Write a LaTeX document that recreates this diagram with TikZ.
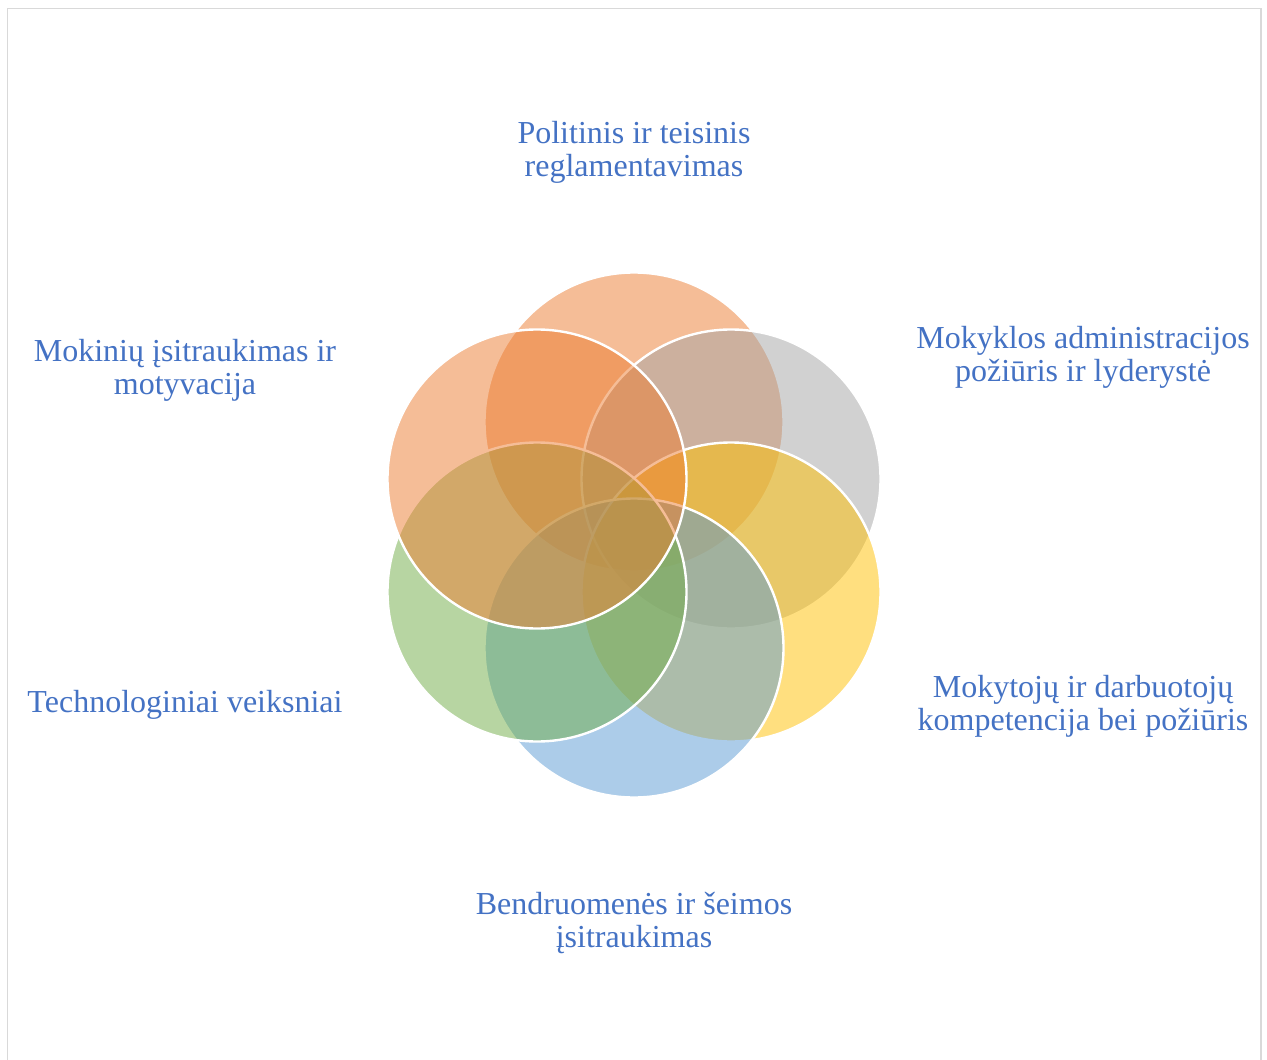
\documentclass[tikz,border=0pt]{standalone}
\usepackage{fontspec}
\setmainfont{Liberation Serif}
\definecolor{txtblue}{HTML}{4472C4}
\definecolor{cOrange}{HTML}{ED7D31}
\definecolor{cGray}{HTML}{A5A5A5}
\definecolor{cGold}{HTML}{FFC000}
\definecolor{cBlue}{HTML}{5B9BD5}
\definecolor{cGreen}{HTML}{70AD47}
\definecolor{frameGray}{HTML}{D9D9D9}
\begin{document}
\begin{tikzpicture}[x=0.5pt,y=-0.5pt,
  venn/.style={circle, minimum size=149.5pt, inner sep=0pt, outer sep=0pt,
    fill opacity=0.5, draw=white, draw opacity=1, line width=1.2pt},
  lbl/.style={text=txtblue, align=center, inner sep=0pt,
    font=\fontsize{16}{16.6}\selectfont}]
\useasboundingbox (0,0) rectangle (1267,1059);
\fill[white] (0,0) rectangle (1267,1059);
\draw[frameGray, line width=0.8pt] (7.5,1080) -- (7.5,8.5) -- (1261,8.5) -- (1261,1080);
% circles, drawn clockwise from the top; the last one lies on top
\node[venn, fill=cOrange] (top) at (634,422) {};
\node[venn, fill=cGray]   (ur)  at (731,479) {};
\node[venn, fill=cGold]   (lr)  at (731,592) {};
\node[venn, fill=cBlue]   (bot) at (634,648) {};
\node[venn, fill=cGreen]  (ll)  at (537,592) {};
\node[venn, fill=cOrange] (ul)  at (537,479) {};
% labels
\node[lbl] (ttop) at (634,152) {Politinis ir teisinis\\reglamentavimas};
\node[lbl] (tur)  at (1083,357) {Mokyklos administracijos\\požiūris ir lyderystė};
\node[lbl] (tlr)  at (1083,706) {Mokytojų ir darbuotojų\\kompetencija bei požiūris};
\node[lbl] (tbot) at (634,923) {Bendruomenės ir šeimos\\įsitraukimas};
\node[lbl] (tll)  at (185,705) {Technologiniai veiksniai};
\node[lbl] (tul)  at (185,370) {Mokinių įsitraukimas ir\\motyvacija};
\end{tikzpicture}
\end{document}
